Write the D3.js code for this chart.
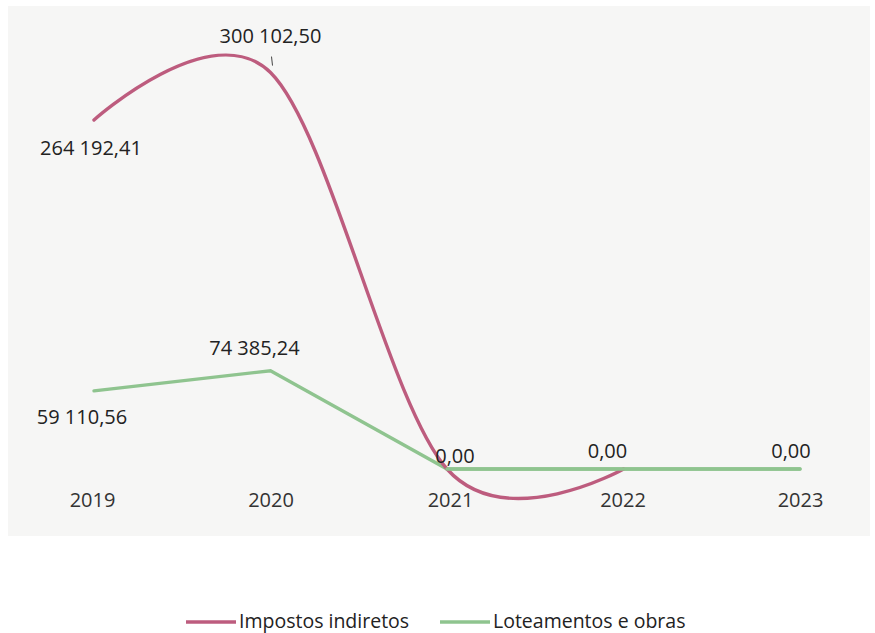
<!DOCTYPE html>
<html><head><meta charset="utf-8">
<script src="https://cdn.jsdelivr.net/npm/d3@7"></script>
<style>body{margin:0;background:#fff;font-family:"Open Sans","Noto Sans",sans-serif;}</style>
</head><body>
<svg id="c" width="875" height="633"></svg>
<script>
const years = ["2019","2020","2021","2022","2023"];
const impostos = [264192.41, 300102.50, 0, 0, null];
const loteamentos = [59110.56, 74385.24, 0, 0, 0];
const impostosLabels = ["264 192,41","300 102,50","","",""];
const loteamentosLabels = ["59 110,56","74 385,24","0,00","0,00","0,00"];
const seriesNames = ["Impostos indiretos","Loteamentos e obras"];
const colors = ["#bd5c7e","#8fc48f"];

const svg = d3.select("#c");
svg.append("rect").attr("x",8).attr("y",6).attr("width",862).attr("height",530).attr("fill","#f6f6f5");

const x = d3.scalePoint().domain(years).range([94,800]);
const y = d3.scaleLinear().domain([0,264192.41]).range([469,120]);

const imp = years.map((d,i)=>({x:d,v:impostos[i]})).filter(d=>d.v!==null);
const lot = years.map((d,i)=>({x:d,v:loteamentos[i]}));

const lineSmooth = d3.line().x(d=>x(d.x)).y(d=>y(d.v)).curve(d3.curveCardinal.tension(0));
const lineStraight = d3.line().x(d=>x(d.x)).y(d=>y(d.v));

svg.append("path").datum(lot).attr("d",lineStraight).attr("fill","none")
  .attr("stroke",colors[1]).attr("stroke-width",3.4).attr("stroke-linecap","round");
svg.append("path").datum(imp).attr("d",lineSmooth).attr("fill","none")
  .attr("stroke",colors[0]).attr("stroke-width",3.4).attr("stroke-linecap","round");
svg.append("path").datum(lot.slice(2)).attr("d",lineStraight).attr("fill","none")
  .attr("stroke",colors[1]).attr("stroke-width",3.4).attr("stroke-linecap","round");

// x axis labels
const axis = d3.axisBottom(x).tickSize(0).tickPadding(0);
const g = svg.append("g").attr("transform","translate(0,507)").call(axis);
g.select(".domain").remove();
g.selectAll("text").attr("y",0).attr("dy",0).attr("font-size",20).attr("fill","#333")
  .attr("font-family","Open Sans, Noto Sans, sans-serif")
  .attr("dx",(d,i)=>[-2,0,3,-1,0][i]);

const txt = (s,xx,yy)=>svg.append("text").attr("x",xx).attr("y",yy).attr("text-anchor","middle")
  .attr("font-size",20).attr("fill","#222").text(s);

// data labels
txt(impostosLabels[0], x(years[0])-3, y(impostos[0])+35);
txt(impostosLabels[1], x(years[1])+0, y(impostos[1])-30);
svg.append("line").attr("x1",x(years[1])+1).attr("x2",x(years[1])+2).attr("y1",y(impostos[1])-16).attr("y2",y(impostos[1])-7)
  .attr("stroke","#444").attr("stroke-width",1);
txt(loteamentosLabels[0], x(years[0])-12, y(loteamentos[0])+33);
txt(loteamentosLabels[1], x(years[1])-16, y(loteamentos[1])-16);
txt(loteamentosLabels[2], x(years[2])+8, y(0)-6);
txt(loteamentosLabels[3], x(years[3])-16, y(0)-11);
txt(loteamentosLabels[4], x(years[4])-9, y(0)-11);

// legend
const leg = svg.append("g");
const lx = [186,440];
seriesNames.forEach((n,i)=>{
  leg.append("line").attr("x1",lx[i]).attr("x2",lx[i]+50).attr("y1",622).attr("y2",622)
    .attr("stroke",colors[i]).attr("stroke-width",3.5);
  leg.append("text").attr("x",lx[i]+53).attr("y",628).attr("font-size",19.5).attr("fill","#222").text(n);
});
</script>
</body></html>
